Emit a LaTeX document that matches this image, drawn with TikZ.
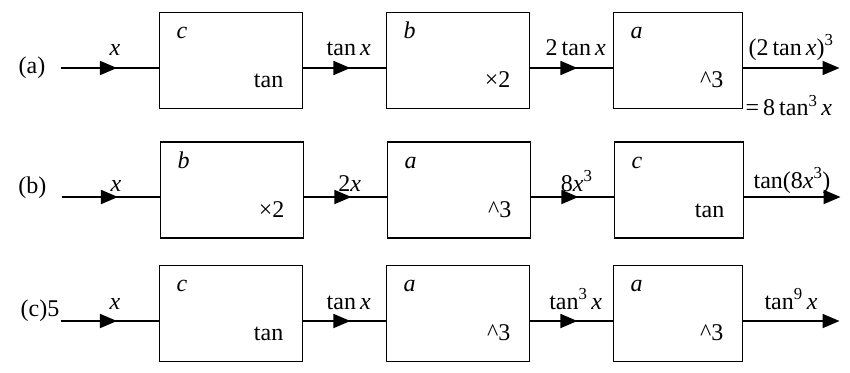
\documentclass[tikz,border=0pt]{standalone}
\usepackage{fontspec}
\setmainfont{Liberation Serif}
\usetikzlibrary{positioning,arrows.meta,decorations.markings}

\begin{document}
\begin{tikzpicture}[x=1pt,y=1pt,font=\fontsize{24}{28}\selectfont,
   block/.style={draw,line width=1.8pt,minimum width=143pt,minimum height=96pt,
     inner sep=0pt,outer sep=0pt},
   lastblock/.style={block,minimum width=129pt},
   flow/.style={line width=1.8pt,postaction={decorate},
     decoration={markings,mark=at position 0.57 with
       {\arrow{Triangle[length=17pt,width=14pt]}}}},
   outflow/.style={line width=1.8pt,-{Triangle[length=17pt,width=14pt]}},
   sig/.style={pos=0.55,anchor=base,inner sep=0pt},
   fname/.style={anchor=base west,inner sep=0pt},
   fop/.style={anchor=base east,inner sep=0pt},
   tag/.style={anchor=base east,inner sep=0pt}]
  \useasboundingbox (0,0) rectangle (850,-372);

  \node[block] (a1) at (231,-60.5) {};
  \node[block,right=84pt of a1] (a2) {};
  \node[lastblock,right=84pt of a2] (a3) {};
  \node[block] (b1) at (232,-190) {};
  \node[block,right=84pt of b1] (b2) {};
  \node[lastblock,right=84pt of b2] (b3) {};
  \node[block] (c1) at (231,-313.5) {};
  \node[block,right=84pt of c1] (c2) {};
  \node[lastblock,right=84pt of c2] (c3) {};

  \node[fname] (a1f) at ([xshift=17pt,yshift=-26pt]a1.north west) {\textit{c}};
  \node[fname] (a2f) at ([xshift=17pt,yshift=-26pt]a2.north west) {\textit{b}};
  \node[fname] (a3f) at ([xshift=17pt,yshift=-26pt]a3.north west) {\textit{a}};
  \node[fname] (b1f) at ([xshift=17pt,yshift=-26pt]b1.north west) {\textit{b}};
  \node[fname] (b2f) at ([xshift=17pt,yshift=-26pt]b2.north west) {\textit{a}};
  \node[fname] (b3f) at ([xshift=17pt,yshift=-26pt]b3.north west) {\textit{c}};
  \node[fname] (c1f) at ([xshift=17pt,yshift=-26pt]c1.north west) {\textit{c}};
  \node[fname] (c2f) at ([xshift=17pt,yshift=-26pt]c2.north west) {\textit{a}};
  \node[fname] (c3f) at ([xshift=17pt,yshift=-26pt]c3.north west) {\textit{a}};

  \node[fop] (a1op) at ([xshift=-19pt,yshift=21pt]a1.south east) {tan};
  \node[fop] (a2op) at ([xshift=-19pt,yshift=21pt]a2.south east) {×2};
  \node[fop] (a3op) at ([xshift=-19pt,yshift=21pt]a3.south east) {\textasciicircum 3};
  \node[fop] (b1op) at ([xshift=-19pt,yshift=21pt]b1.south east) {×2};
  \node[fop] (b2op) at ([xshift=-19pt,yshift=21pt]b2.south east) {\textasciicircum 3};
  \node[fop] (b3op) at ([xshift=-19pt,yshift=21pt]b3.south east) {tan};
  \node[fop] (c1op) at ([xshift=-19pt,yshift=21pt]c1.south east) {tan};
  \node[fop] (c2op) at ([xshift=-19pt,yshift=21pt]c2.south east) {\textasciicircum 3};
  \node[fop] (c3op) at ([xshift=-19pt,yshift=21pt]c3.south east) {\textasciicircum 3};

  \coordinate (ina) at ([xshift=-99pt,yshift=-7.5pt]a1.west);
  \coordinate (outa) at ([xshift=97pt,yshift=-7.5pt]a3.east);
  \coordinate (inb) at ([xshift=-99pt,yshift=-7pt]b1.west);
  \coordinate (outb) at ([xshift=97pt,yshift=-7pt]b3.east);
  \coordinate (inc) at ([xshift=-99pt,yshift=-7.5pt]c1.west);
  \coordinate (outc) at ([xshift=97pt,yshift=-7.5pt]c3.east);

  \node[tag] (la) at ([xshift=-15pt,yshift=-5pt]ina) {(a)};
  \node[tag] (lb) at ([xshift=-15pt,yshift=4pt]inb) {(b)};
  \node[tag] (lc) at ([xshift=-1pt,yshift=5pt]inc) {(c)5};

  \path
   (ina) edge[flow] node[sig,yshift=13pt]{\textit{x}} ([yshift=-7.5pt]a1.west)
   ([yshift=-7.5pt]a1.east) edge[flow] node[sig,yshift=13pt]{tan\,\textit{x}} ([yshift=-7.5pt]a2.west)
   ([yshift=-7.5pt]a2.east) edge[flow] node[sig,yshift=13pt]{2\,tan\,\textit{x}} ([yshift=-7.5pt]a3.west)
   ([yshift=-7.5pt]a3.east) edge[outflow] node[sig,pos=0.5,yshift=13pt]{(2\,tan\,\textit{x})\textsuperscript{3}} (outa);
  \node[anchor=base west,inner sep=0pt] (a3res) at ([xshift=3pt,yshift=-7pt]a3.south east)
   {=\,8\,tan\textsuperscript{3}\,\textit{x}};

  \path
   (inb) edge[flow] node[sig,yshift=6pt]{\textit{x}} ([yshift=-7pt]b1.west)
   ([yshift=-7pt]b1.east) edge[flow] node[sig,yshift=6pt]{2\textit{x}} ([yshift=-7pt]b2.west)
   ([yshift=-7pt]b2.east) edge[flow] node[sig,yshift=6pt]{8\textit{x}\textsuperscript{3}} ([yshift=-7pt]b3.west)
   ([yshift=-7pt]b3.east) edge[outflow] node[sig,pos=0.5,yshift=9pt]{tan(8\textit{x}\textsuperscript{3})} (outb);

  \path
   (inc) edge[flow] node[sig,yshift=12pt]{\textit{x}} ([yshift=-7.5pt]c1.west)
   ([yshift=-7.5pt]c1.east) edge[flow] node[sig,yshift=12pt]{tan\,\textit{x}} ([yshift=-7.5pt]c2.west)
   ([yshift=-7.5pt]c2.east) edge[flow] node[sig,yshift=12pt]{tan\textsuperscript{3}\,\textit{x}} ([yshift=-7.5pt]c3.west)
   ([yshift=-7.5pt]c3.east) edge[outflow] node[sig,pos=0.5,yshift=12pt]{tan\textsuperscript{9}\,\textit{x}} (outc);
\end{tikzpicture}
\end{document}
